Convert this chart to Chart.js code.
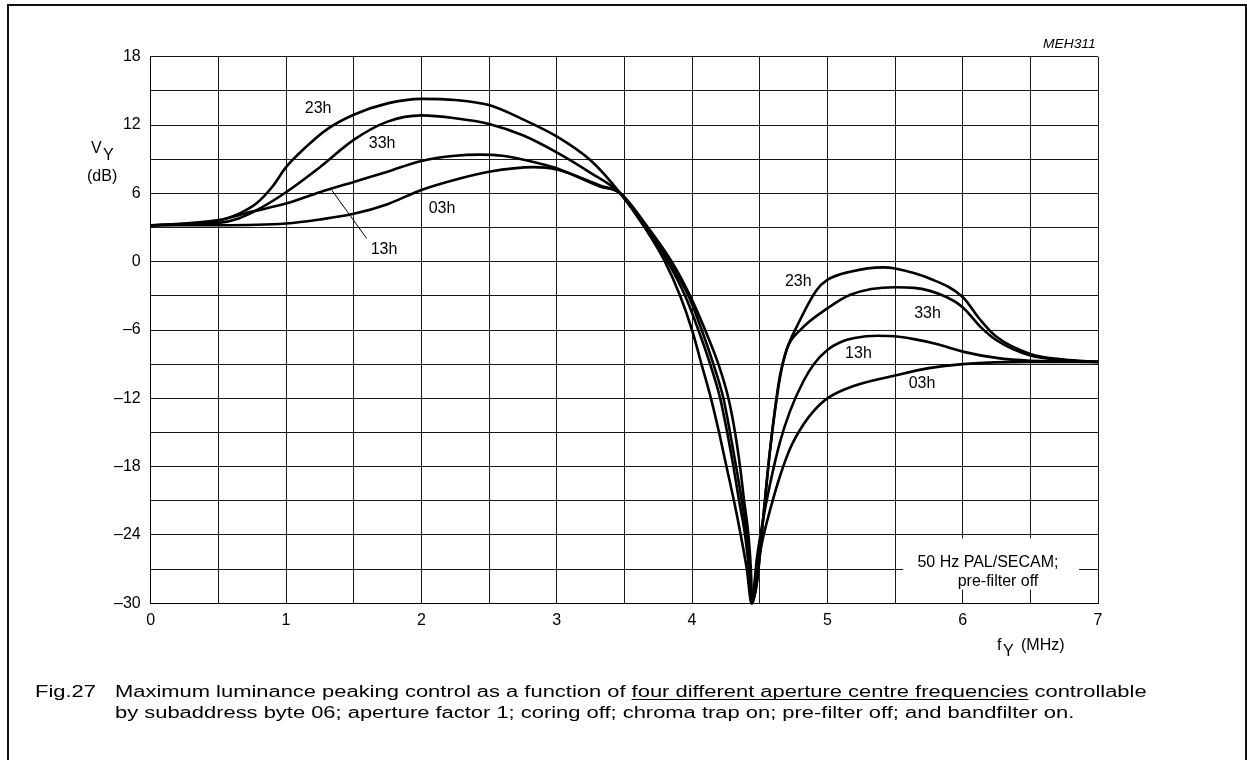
<!DOCTYPE html>
<html>
<head>
<meta charset="utf-8">
<script src="https://cdn.jsdelivr.net/npm/chart.js@4/dist/chart.umd.min.js"></script>
<style>
  html, body { margin: 0; padding: 0; background: #fff; }
  #peaking { display: block; }
</style>
</head>
<body>
<canvas id="peaking" width="1247" height="760"></canvas>
<script>
// aperture centre frequency settings (subaddress 06)
const settings = ['23h', '33h', '13h', '03h'];

// luminance response per setting: frequency (MHz) and gain (dB)
const freq23 = [0, 0.25, 0.5, 0.65, 0.78, 0.9, 1.0, 1.15, 1.3, 1.5, 1.75, 2.0, 2.25, 2.5, 2.75, 3.0, 3.25, 3.47, 3.65, 3.8, 3.912, 4.0, 4.07, 4.14, 4.2, 4.255, 4.31, 4.36, 4.405, 4.44, 4.479, 4.528, 4.577, 4.65, 4.70, 4.774, 4.92, 5.0, 5.17, 5.415, 5.5, 5.76, 6.0, 6.13, 6.25, 6.5, 6.75, 7.0];
const gain23 = [3.2, 3.3, 3.6, 4.2, 5.1, 6.6, 8.3, 10.1, 11.6, 12.9, 13.9, 14.3, 14.2, 13.75, 12.5, 11.0, 8.9, 6.0, 3.0, 0.0, -3, -6, -9, -12, -15, -18, -21, -24, -27, -30, -28.2, -22.3, -16.5, -10, -7.7, -5.7, -2.5, -1.6, -0.88, -0.5, -0.6, -1.5, -3.1, -5.1, -6.6, -8.1, -8.6, -8.8];

const freq33 = [0, 0.25, 0.5, 0.65, 0.78, 1.0, 1.25, 1.5, 1.75, 2.0, 2.25, 2.5, 2.75, 3.0, 3.25, 3.47, 3.65, 3.82, 3.949, 4.047, 4.134, 4.208, 4.26, 4.306, 4.348, 4.392, 4.42, 4.44, 4.479, 4.528, 4.577, 4.65, 4.70, 4.80, 5.0, 5.17, 5.5, 5.64, 5.88, 6.0, 6.13, 6.25, 6.5, 6.75, 7.0];
const gain33 = [3.2, 3.3, 3.4, 3.8, 4.5, 6.1, 8.3, 10.7, 12.3, 12.85, 12.6, 12.1, 11.1, 9.6, 7.8, 6.0, 3.2, 0.0, -3, -6, -9, -12, -15, -18, -21, -24, -27, -30, -28.2, -22.3, -16.5, -10.2, -7.7, -6.0, -4.1, -2.9, -2.25, -2.3, -3.1, -4.0, -5.7, -6.9, -8.25, -8.65, -8.8];

const freq13 = [0, 0.25, 0.5, 0.75, 1.0, 1.25, 1.5, 1.75, 2.0, 2.25, 2.43, 2.6, 2.88, 3.0, 3.32, 3.47, 3.65, 3.83, 3.974, 4.072, 4.158, 4.232, 4.281, 4.326, 4.368, 4.405, 4.43, 4.44, 4.48, 4.52, 4.577, 4.651, 4.725, 4.823, 4.9, 5.0, 5.1, 5.2, 5.37, 5.5, 5.64, 5.8, 5.9, 6.0, 6.25, 6.5, 7.0];
const gain13 = [3.2, 3.35, 3.65, 4.4, 5.1, 6.1, 7.0, 7.9, 8.85, 9.3, 9.4, 9.3, 8.6, 8.2, 6.6, 6.0, 3.3, 0.0, -3, -6, -9, -12, -15, -18, -21, -24, -27, -30, -26, -23, -19.5, -15.8, -13.1, -10.5, -9.0, -7.75, -7.05, -6.7, -6.5, -6.55, -6.8, -7.2, -7.55, -7.9, -8.45, -8.7, -8.8];

const freq03 = [0, 0.5, 1.0, 1.25, 1.5, 1.75, 2.0, 2.25, 2.5, 2.83, 3.0, 3.32, 3.47, 3.65, 3.85, 3.986, 4.097, 4.195, 4.269, 4.318, 4.355, 4.385, 4.417, 4.435, 4.445, 4.48, 4.52, 4.577, 4.651, 4.725, 4.823, 4.9, 5.0, 5.2, 5.5, 5.75, 6.0, 6.5, 7.0];
const gain03 = [3.2, 3.2, 3.35, 3.7, 4.2, 5.05, 6.3, 7.2, 7.9, 8.3, 8.1, 6.7, 6.0, 3.4, 0.0, -3, -6, -9, -12, -15, -18, -21, -24, -27, -30, -27, -24.5, -21.8, -18.8, -16.4, -14.3, -13.1, -12.0, -10.9, -10.0, -9.35, -9.0, -8.8, -8.8];

const freqs = [freq23, freq33, freq13, freq03];
const gains = [gain23, gain33, gain13, gain03];

// axis ticks
const xTickLabels = ['0', '1', '2', '3', '4', '5', '6', '7'];
const yTickLabels = ['18', '12', '6', '0', '–6', '–12', '–18', '–24', '–30'];

// curve labels, placed in data coordinates [MHz, dB]
const curveLabels = [
  ['23h', 1.237, 13.4], ['33h', 1.71, 10.4], ['03h', 2.153, 4.7], ['13h', 1.724, 1.1],
  ['23h', 4.785, -1.72], ['33h', 5.74, -4.53], ['13h', 5.23, -8.05], ['03h', 5.70, -10.7]
];

const FONT = '"Liberation Sans", Arial, Helvetica, sans-serif';

const datasets = settings.map((name, i) => ({
  label: name,
  data: freqs[i].map((f, k) => ({ x: f, y: gains[i][k] })),
  borderColor: '#000',
  borderWidth: 2.6,
  pointRadius: 0,
  fill: false,
  cubicInterpolationMode: 'monotone',
  clip: false
}));

// text stretched horizontally, drawn from its left edge
function wideText(ctx, text, x, y, sx) {
  ctx.save();
  ctx.translate(x, y);
  ctx.scale(sx, 1);
  ctx.fillText(text, 0, 0);
  const w = ctx.measureText(text).width;
  ctx.restore();
  return w * sx;
}

const drawExtras = {
  id: 'drawExtras',
  beforeDatasetsDraw(chart) {
    const ctx = chart.ctx;
    const xs = chart.scales.x, ys = chart.scales.y;
    // note box, blanking the grid behind it
    const x0 = xs.getPixelForValue(5.56), x1 = xs.getPixelForValue(6.86);
    const y0 = ys.getPixelForValue(-24.3), y1 = ys.getPixelForValue(-28.8);
    ctx.save();
    ctx.fillStyle = '#fff';
    ctx.fillRect(x0, y0, x1 - x0, y1 - y0);
    ctx.fillStyle = '#000';
    ctx.font = '16px ' + FONT;
    ctx.textAlign = 'center';
    ctx.textBaseline = 'alphabetic';
    ctx.fillText('50 Hz PAL/SECAM;', 988, 567);
    ctx.fillText('pre-filter off', 998, 586);
    ctx.restore();
  },
  afterDraw(chart) {
    const ctx = chart.ctx;
    const xs = chart.scales.x, ys = chart.scales.y;
    ctx.save();
    // outer frame
    ctx.strokeStyle = '#111';
    ctx.lineWidth = 2;
    ctx.beginPath();
    ctx.moveTo(8, 770);
    ctx.lineTo(8, 5);
    ctx.lineTo(1246, 5);
    ctx.lineTo(1246, 770);
    ctx.stroke();

    ctx.fillStyle = '#000';
    ctx.font = '16px ' + FONT;
    ctx.textBaseline = 'middle';
    ctx.textAlign = 'center';
    curveLabels.forEach(([t, f, g]) => {
      ctx.fillText(t, xs.getPixelForValue(f), ys.getPixelForValue(g));
    });

    // leader line for the 13h curve
    ctx.strokeStyle = '#000';
    ctx.lineWidth = 1;
    ctx.beginPath();
    ctx.moveTo(xs.getPixelForValue(1.338), ys.getPixelForValue(6.28));
    ctx.lineTo(xs.getPixelForValue(1.596), ys.getPixelForValue(2.04));
    ctx.stroke();

    // figure code
    ctx.font = 'italic 12px ' + FONT;
    ctx.textAlign = 'left';
    wideText(ctx, 'MEH311', 1043, 45, 1.15);

    // y axis title
    ctx.textBaseline = 'alphabetic';
    ctx.font = '16px ' + FONT;
    ctx.fillText('V', 91, 153);
    ctx.fillText('Y', 103, 160);
    ctx.fillText('(dB)', 87, 181);

    // x axis title
    ctx.fillText('f', 997, 650);
    ctx.fillText('Y', 1003, 656);
    ctx.fillText('(MHz)', 1021, 650);

    // caption
    const sx = 1.37;
    const l1a = 'Maximum luminance peaking control as a function of ';
    const l1b = 'four different aperture centre frequencies';
    const l1c = ' controllable';
    wideText(ctx, 'Fig.27', 35, 697, sx);
    let x = 115;
    x += wideText(ctx, l1a, x, 697, sx);
    const w = wideText(ctx, l1b, x, 697, sx);
    ctx.fillRect(x, 699, w, 1);
    wideText(ctx, l1c, x + w, 697, sx);
    wideText(ctx, 'by subaddress byte 06; aperture factor 1; coring off; chroma trap on; pre-filter off; and bandfilter on.', 115, 718, sx);
    ctx.restore();
  }
};

new Chart(document.getElementById('peaking'), {
  type: 'line',
  data: { datasets: datasets },
  options: {
    responsive: false,
    animation: false,
    devicePixelRatio: 1,
    layout: { padding: { left: 0, right: 149, top: 56.7, bottom: 116.7 } },
    plugins: { legend: { display: false }, tooltip: { enabled: false }, title: { display: false } },
    scales: {
      x: {
        type: 'linear',
        min: 0,
        max: 7,
        afterFit(scale) { scale.height = 40; },
        border: { display: true, color: '#000', width: 1 },
        grid: { color: '#1a1a1a', lineWidth: 1, drawTicks: false },
        ticks: {
          stepSize: 0.5,
          padding: 8,
          color: '#000',
          font: { family: FONT, size: 16 },
          maxRotation: 0,
          autoSkip: false,
          callback: v => Number.isInteger(v) ? xTickLabels[v] : ''
        }
      },
      y: {
        min: -30,
        max: 18,
        afterFit(scale) { scale.width = 150.7; },
        border: { display: true, color: '#000', width: 1 },
        grid: { color: '#1a1a1a', lineWidth: 1, drawTicks: false },
        ticks: {
          stepSize: 3,
          padding: 10,
          color: '#000',
          font: { family: FONT, size: 16 },
          autoSkip: false,
          callback: v => (v % 6 === 0) ? yTickLabels[(18 - v) / 6] : ''
        }
      }
    }
  },
  plugins: [drawExtras]
});
</script>
</body>
</html>
